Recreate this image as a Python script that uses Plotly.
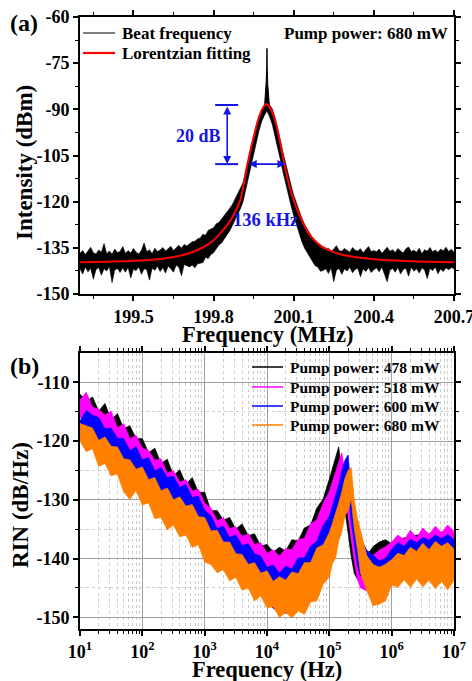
import plotly.graph_objects as go

# ---------------- Panel (a): beat note ----------------
A_FREQ = [round(199.30 + 0.01 * i, 2) for i in range(141)]   # MHz sampling grid
A_UPPER = [
    -136.8, -135.9, -137.2, -136.1, -134.8, -136.6, -137.0, -135.7, -136.4, -133.6,
    -136.9, -136.0, -137.1, -135.4, -136.5, -136.2, -134.6, -136.8, -135.9, -136.7,
    -135.2, -136.4, -137.0, -135.8, -133.4, -136.3, -135.6, -136.9, -135.1, -136.2,
    -135.7, -134.9, -136.0, -135.3, -134.5, -135.9, -135.0, -134.2, -135.1, -133.9, -134.4,
    -133.8, -133.0, -132.9, -132.1, -131.8, -130.6, -130.9, -129.3, -128.9, -128.5,
    -127.2, -126.8, -125.6, -124.5, -123.6, -122.2, -121.0, -119.3, -117.8, -116.0,
    -113.9, -110.5, -106.5, -103.0, -99.5, -96.0, -93.0, -90.5, -88.8,
    -87.5,
    -88.6, -89.9, -92.6, -96.0, -100.2, -104.0, -107.8, -111.5, -114.6, -117.9,
    -120.5, -123.0, -125.2, -127.3, -128.8, -130.5, -131.7, -132.6, -133.5, -134.1,
    -134.8, -135.6, -135.1, -136.2, -135.4, -134.3, -135.9, -136.1, -135.2, -135.7,
    -136.4, -134.9, -135.8, -136.0, -135.3, -136.6, -135.5, -134.6, -136.2, -135.9,
    -136.3, -135.4, -136.8, -135.7, -134.8, -136.1, -135.6, -136.5, -135.2, -136.0,
    -136.7, -135.3, -134.7, -136.2, -135.8, -136.4, -135.1, -136.9, -135.6, -136.1,
    -134.9, -136.3, -135.7, -136.5, -135.4, -136.0, -134.8, -136.2, -135.5, -136.4,
]
A_LOWER = [
    -141.9, -143.5, -141.2, -142.8, -141.6, -145.2, -142.0, -141.4, -143.9, -141.8,
    -142.5, -141.1, -146.3, -142.2, -141.7, -143.0, -141.5, -142.9, -141.3, -144.8,
    -141.9, -142.4, -141.2, -143.6, -141.8, -142.1, -145.5, -141.6, -142.3, -141.0,
    -142.7, -141.4, -143.2, -140.9, -141.8, -142.9, -140.6, -141.3, -144.1, -140.4, -140.9,
    -141.2, -140.6, -141.5, -140.2, -140.0, -139.8, -138.1, -138.5, -137.2, -136.6,
    -135.5, -134.1, -133.4, -132.0, -130.8, -129.6, -127.8, -126.1, -124.2, -122.4,
    -120.1, -116.0, -112.5, -108.5, -104.5, -100.5, -97.0, -94.0, -92.0,
    -90.5,
    -92.5, -95.0, -98.5, -102.4, -106.3, -110.4, -114.2, -117.9, -121.3, -124.6,
    -127.8, -130.3, -132.9, -135.0, -136.8, -138.1, -139.4, -140.8, -141.2, -142.6,
    -142.4, -141.8, -143.3, -141.5, -146.0, -142.2, -141.7, -143.6, -141.9, -142.5,
    -141.3, -143.1, -142.0, -141.6, -144.4, -141.8, -142.7, -141.4, -143.0, -142.1,
    -141.5, -142.8, -141.2, -143.9, -146.0, -142.3, -141.7, -142.9, -141.4, -143.5,
    -142.0, -141.6, -144.2, -141.3, -142.6, -141.8, -143.2, -141.5, -142.2, -145.0,
    -141.7, -142.4, -141.2, -143.4, -141.9, -142.7, -141.5, -142.1, -141.4, -141.8,
]
A_SPIKE_F = [199.990, 199.994, 199.997, 199.999, 200.000, 200.001, 200.003, 200.006, 200.010]
A_SPIKE_DB = [-90.0, -86.0, -81.0, -76.0, -70.2, -77.0, -82.0, -87.0, -90.0]
A_FIT_F = [199.30, 199.40, 199.50, 199.60, 199.65, 199.70, 199.75, 199.78, 199.80, 199.83,
           199.86, 199.88, 199.90, 199.925, 199.95, 199.97, 199.985, 199.996, 200.01, 200.03,
           200.05, 200.065, 200.08, 200.10, 200.12, 200.14, 200.16, 200.20, 200.25, 200.30,
           200.40, 200.50, 200.60, 200.70]
A_FIT_DB = [-139.7, -139.5, -139.2, -138.6, -138.0, -137.0, -135.3, -133.8, -132.5, -129.8,
            -126.5, -123.5, -119.5, -108.5, -99.0, -92.5, -89.5, -88.3, -89.3, -93.5,
            -101.0, -107.8, -113.5, -119.5, -124.0, -127.8, -130.8, -134.3, -136.4, -137.6,
            -138.7, -139.2, -139.5, -139.7]
A_NAMES = ["Beat frequency", "Lorentzian fitting"]
A_COLORS = ["#000000", "#ff0000"]
A_XTICKS = [199.5, 199.8, 200.1, 200.4, 200.7]
A_YTICKS = [-150, -135, -120, -105, -90, -75, -60]

# marker annotations (20 dB span and 136 kHz width)
DB_TOP, DB_BOT = -88.6, -107.8
DB_CAP_F = (199.806, 199.892)
DB_ARROW_F = 199.851
KHZ_F = (199.926, 200.069)

# ---------------- Panel (b): RIN ----------------
B_LOGF = [1.0, 1.1, 1.2, 1.3, 1.4, 1.5, 1.6, 1.7, 1.8, 1.9,
          2.0, 2.1, 2.2, 2.3, 2.4, 2.5, 2.6, 2.7, 2.8, 2.9,
          3.0, 3.1, 3.2, 3.3, 3.4, 3.5, 3.6, 3.7, 3.8, 3.9,
          4.0, 4.1, 4.2, 4.3, 4.4, 4.5, 4.6, 4.7, 4.8, 4.9,
          5.0, 5.05, 5.1, 5.15, 5.2, 5.25, 5.3, 5.35, 5.4, 5.45,
          5.5, 5.6, 5.7, 5.8, 5.9, 6.0, 6.1, 6.2, 6.3, 6.4,
          6.5, 6.6, 6.7, 6.8, 6.9, 7.0]
K_UP = [-112.0, -113.2, -112.5, -114.9, -113.6, -116.4, -115.3, -117.9, -117.4, -119.6,
        -119.6, -122.0, -121.2, -123.8, -123.1, -125.9, -124.9, -127.4, -126.2, -128.8,
        -128.7, -131.9, -131.8, -133.5, -133.0, -135.0, -134.1, -136.1, -135.8, -137.9,
        -137.6, -138.9, -138.1, -138.7, -136.8, -137.0, -134.8, -134.3, -131.4, -129.9,
        -126.5, -124.6, -122.6, -121.0, -125.5, -129.5, -133.0, -137.0, -140.0, -141.5,
        -141.0, -139.6, -138.0, -137.2, -136.8, -137.5, -136.8, -136.5, -136.3, -136.0,
        -135.8, -135.8, -135.6, -135.5, -135.5, -135.6]
K_LO = [-115.5, -116.0, -117.0, -118.2, -119.0, -120.0, -121.0, -121.8, -123.0, -123.8,
        -124.6, -125.6, -126.5, -127.4, -128.2, -129.0, -129.8, -130.6, -131.4, -132.4,
        -133.6, -135.4, -136.2, -137.0, -137.8, -138.6, -139.4, -140.2, -141.0, -142.0,
        -143.0, -143.6, -144.0, -144.0, -143.5, -142.8, -141.8, -140.5, -138.8, -136.8,
        -134.2, -132.5, -130.5, -128.8, -128.0, -131.5, -135.5, -139.5, -142.5, -143.5,
        -143.2, -142.5, -142.0, -141.5, -141.0, -141.5, -141.0, -140.8, -141.0, -140.6,
        -140.8, -140.5, -140.7, -140.4, -140.6, -140.5]
M_UP = [-113.0, -111.7, -114.2, -114.6, -115.6, -114.9, -117.8, -117.0, -119.6, -119.0,
        -121.2, -121.6, -123.3, -123.0, -125.5, -125.0, -127.0, -126.6, -128.5, -128.2,
        -130.6, -131.4, -133.6, -133.0, -134.9, -134.6, -136.2, -135.8, -137.6, -137.3,
        -139.1, -138.5, -139.6, -138.3, -138.5, -136.7, -136.6, -134.1, -133.4, -130.6,
        -128.6, -127.0, -125.2, -123.6, -122.0, -125.5, -129.5, -133.5, -137.0, -140.0,
        -141.5, -140.0, -139.5, -138.6, -138.0, -137.2, -136.0, -136.8, -135.2, -136.4,
        -134.8, -135.9, -134.5, -135.6, -134.3, -135.4]
M_LO = [-116.0, -117.0, -117.5, -119.0, -120.2, -121.0, -121.8, -122.5, -124.0, -124.8,
        -125.5, -126.5, -127.5, -128.2, -129.0, -130.0, -130.8, -131.5, -132.3, -133.2,
        -134.6, -136.4, -137.0, -138.0, -138.6, -139.4, -140.4, -141.2, -142.0, -143.0,
        -144.0, -144.6, -145.0, -145.0, -144.6, -144.0, -143.2, -142.0, -140.4, -138.5,
        -136.0, -134.5, -132.5, -130.5, -128.5, -128.0, -131.8, -136.5, -140.5, -143.5,
        -145.0, -145.5, -145.0, -144.5, -144.0, -143.0, -142.5, -142.0, -142.2, -141.8,
        -142.0, -141.6, -141.9, -141.5, -141.8, -141.6]
B_UP = [-116.6, -114.8, -115.6, -116.0, -117.9, -117.8, -119.5, -119.6, -121.6, -121.0,
        -123.2, -122.8, -125.1, -124.5, -126.2, -126.0, -127.9, -127.4, -129.6, -129.4,
        -131.8, -132.7, -134.9, -134.5, -136.4, -136.0, -137.8, -137.5, -139.2, -139.6,
        -141.5, -141.1, -142.5, -141.3, -141.8, -139.9, -139.9, -137.9, -137.1, -134.4,
        -132.8, -131.0, -129.3, -127.5, -125.2, -123.3, -122.4, -128.5, -132.0, -134.8,
        -136.5, -138.6, -139.4, -140.4, -140.0, -138.4, -137.3, -137.9, -136.7, -137.3,
        -136.4, -136.9, -136.0, -136.6, -135.9, -136.8]
B_LO = [-118.5, -118.9, -119.5, -121.0, -122.3, -122.8, -124.1, -123.5, -126.0, -127.2,
        -127.5, -128.6, -131.5, -130.0, -131.2, -132.0, -132.8, -133.4, -134.5, -135.4,
        -137.0, -139.3, -139.0, -140.5, -141.0, -142.2, -143.3, -144.6, -145.5, -146.2,
        -147.0, -148.5, -148.9, -149.3, -149.0, -148.8, -147.9, -146.8, -145.0, -143.4,
        -141.0, -139.5, -137.6, -135.4, -132.5, -129.5, -127.8, -133.5, -137.5, -141.0,
        -143.0, -142.0, -143.0, -143.5, -143.0, -142.0, -141.5, -141.2, -141.4, -141.0,
        -141.2, -140.8, -141.0, -140.7, -141.0, -140.9]
O_UP = [-117.0, -117.4, -117.8, -119.9, -119.3, -120.9, -121.0, -123.0, -123.2, -124.8,
        -124.4, -126.6, -126.2, -128.5, -128.0, -130.0, -129.5, -131.1, -130.8, -132.9,
        -133.0, -135.3, -135.2, -137.2, -137.2, -139.2, -139.3, -141.0, -140.7, -142.5,
        -142.1, -143.9, -143.1, -143.7, -142.3, -142.6, -140.7, -140.7, -138.2, -137.7,
        -135.6, -134.0, -132.4, -130.6, -128.7, -126.4, -125.0, -124.5, -130.0, -133.2,
        -135.2, -139.5, -141.0, -141.5, -141.0, -140.2, -139.1, -139.5, -138.1, -138.8,
        -137.4, -138.5, -137.1, -137.9, -137.3, -138.4]
O_LO = [-120.0, -121.8, -121.3, -124.3, -123.8, -125.9, -125.6, -128.6, -129.9, -128.4,
        -130.9, -130.5, -133.2, -133.0, -135.1, -134.3, -136.3, -136.0, -138.1, -137.6,
        -140.6, -141.0, -142.4, -141.9, -143.8, -143.2, -145.4, -145.0, -147.2, -146.4,
        -148.4, -148.2, -150.0, -149.2, -150.1, -148.9, -149.5, -147.4, -147.2, -144.4,
        -143.1, -140.8, -139.9, -137.0, -135.4, -132.7, -131.8, -129.8, -134.8, -138.3,
        -142.4, -145.4, -148.0, -147.8, -147.2, -144.5, -144.9, -143.6, -144.9, -143.5,
        -144.8, -143.7, -145.1, -143.9, -145.3, -143.7]
B_NAMES = ["Pump power: 478 mW", "Pump power: 518 mW", "Pump power: 600 mW", "Pump power: 680 mW"]
B_COLORS = ["#000000", "#ff00ff", "#0000ff", "#ff8000"]
B_BANDS = [(K_UP, K_LO), (M_UP, M_LO), (B_UP, B_LO), (O_UP, O_LO)]
B_XTICK_EXP = [1, 2, 3, 4, 5, 6, 7]
B_YTICKS = [-150, -140, -130, -120, -110]

# ---------------- layout geometry ----------------
W, H = 472, 681
ML, MR, MT, MB = 80, 18, 17, 52
PW, PH = W - ML - MR, H - MT - MB


def fx(px):
    return (px - ML) / PW


def fy(py):
    return (H - MB - py) / PH


FONT = "Liberation Serif"
BLUE = "#1414e6"

fig = go.Figure()

# panel (a) traces
fig.add_trace(go.Scatter(x=A_FREQ + A_FREQ[::-1], y=A_UPPER + A_LOWER[::-1], fill="toself",
                         fillcolor="black", line=dict(color="black", width=0.6), mode="lines",
                         name=A_NAMES[0], showlegend=False, hoverinfo="skip", xaxis="x", yaxis="y"))
fig.add_trace(go.Scatter(x=A_SPIKE_F, y=A_SPIKE_DB, fill="toself", fillcolor="black",
                         line=dict(color="black", width=1), mode="lines",
                         showlegend=False, hoverinfo="skip", xaxis="x", yaxis="y"))
fig.add_trace(go.Scatter(x=A_FIT_F, y=A_FIT_DB, mode="lines", name=A_NAMES[1],
                         line=dict(color=A_COLORS[1], width=2, shape="spline"),
                         showlegend=False, xaxis="x", yaxis="y"))

# panel (b) traces
B_FREQ = [10 ** e for e in B_LOGF]
for (up, lo), col, name in zip(B_BANDS, B_COLORS, B_NAMES):
    fig.add_trace(go.Scatter(x=B_FREQ + B_FREQ[::-1], y=up + lo[::-1], fill="toself", fillcolor=col,
                             line=dict(color=col, width=0.8), mode="lines", showlegend=False,
                             name=name, hoverinfo="skip", xaxis="x2", yaxis="y2"))

axis_common = dict(showline=True, linecolor="black", linewidth=2, mirror="ticks", ticks="outside",
                   ticklen=5, tickwidth=1.5, tickcolor="black", zeroline=False, automargin=False,
                   ticklabeloverflow="allow",
                   tickfont=dict(family=FONT, size=18, color="black", weight="bold"))

fig.update_layout(
    width=W, height=H, margin=dict(l=ML, r=MR, t=MT, b=MB, autoexpand=False),
    paper_bgcolor="white", plot_bgcolor="white", showlegend=False,
    font=dict(family=FONT, size=18, color="black", weight="bold"),
    xaxis=dict(axis_common, domain=[0, 1], range=[199.3, 200.7001], tickmode="array",
               tickvals=A_XTICKS, ticktext=[f"{v:.1f}" for v in A_XTICKS], showgrid=False,
               minor=dict(tickvals=[199.35, 199.65, 199.95, 200.25, 200.55], ticks="outside",
                          ticklen=3, tickwidth=1.2, tickcolor="black"), anchor="y"),
    yaxis=dict(axis_common, domain=[fy(294), 1], range=[-150, -60], tickmode="array",
               tickvals=A_YTICKS, ticktext=[str(v) for v in A_YTICKS], showgrid=False,
               minor=dict(tickvals=[v + 7.5 for v in A_YTICKS[:-1]], ticks="outside",
                          ticklen=3, tickwidth=1.2, tickcolor="black"), anchor="x"),
    xaxis2=dict(axis_common, domain=[0, 1], type="log", range=[1, 7.0001], tickmode="array",
                tickvals=[10 ** e for e in B_XTICK_EXP],
                ticktext=[f"10<sup>{e}</sup>" for e in B_XTICK_EXP],
                showgrid=True, gridcolor="#a0a0a0", gridwidth=1,
                minor=dict(tickvals=[k * 10 ** e for e in range(1, 7) for k in range(2, 10)],
                           ticks="outside", ticklen=3, tickwidth=1, tickcolor="black",
                           showgrid=True, gridcolor="#cccccc", griddash="dot", gridwidth=1),
                anchor="y2"),
    yaxis2=dict(axis_common, domain=[0, fy(353)], range=[-152, -105], tickmode="array",
                tickvals=B_YTICKS, ticktext=[str(v) for v in B_YTICKS],
                showgrid=True, gridcolor="#a0a0a0", gridwidth=1,
                minor=dict(tickvals=[-145, -135, -125, -115], ticks="outside", ticklen=3,
                           tickwidth=1.2, tickcolor="black", showgrid=True, gridcolor="#cccccc",
                           griddash="dot", gridwidth=1),
                anchor="x2"),
)

# 20 dB / 136 kHz markers (panel a)
for yv in (DB_TOP, DB_BOT):
    fig.add_shape(type="line", xref="x", yref="y", x0=DB_CAP_F[0], x1=DB_CAP_F[1], y0=yv, y1=yv,
                  line=dict(color=BLUE, width=2))
fig.add_annotation(xref="x", yref="y", axref="x", ayref="y", x=DB_ARROW_F, y=DB_BOT, ax=DB_ARROW_F, ay=DB_TOP,
                   text="", showarrow=True, arrowside="end+start", arrowhead=2, arrowsize=1,
                   arrowwidth=1.6, arrowcolor=BLUE)
fig.add_annotation(xref="x", yref="y", axref="x", ayref="y", x=KHZ_F[1], y=DB_BOT, ax=KHZ_F[0], ay=DB_BOT,
                   text="", showarrow=True, arrowside="end+start", arrowhead=2, arrowsize=1,
                   arrowwidth=1.6, arrowcolor=BLUE)

# legends (drawn as line samples + labels)
legend_rows = [
    (A_NAMES[0], A_COLORS[0], 1.0, 83, 115, 120, 33, 17),
    (A_NAMES[1], A_COLORS[1], 2.2, 83, 115, 120, 53, 17),
]
for i, (name, col) in enumerate(zip(B_NAMES, B_COLORS)):
    legend_rows.append((name, col, 1.5, 252, 283, 288, [367, 387, 406, 425][i], 15.5))
for name, col, lw, x0, x1, xt, yrow, fs in legend_rows:
    fig.add_shape(type="line", xref="paper", yref="paper", x0=fx(x0), x1=fx(x1), y0=fy(yrow), y1=fy(yrow),
                  line=dict(color=col, width=lw))
    fig.add_annotation(xref="paper", yref="paper", x=fx(xt), y=fy(yrow), text=name, showarrow=False,
                       xanchor="left", yanchor="middle",
                       font=dict(family=FONT, size=fs, color="black", weight="bold"))

texts = [
    dict(text="20 dB", x=fx(198.5), y=fy(136), size=18, color=BLUE),
    dict(text="136 kHz", x=fx(265), y=fy(220), size=18.5, color=BLUE),
    dict(text="Pump power: 680 mW", x=fx(450), y=fy(33), size=17, color="black", xanchor="right"),
    dict(text="(a)", x=fx(24), y=fy(23), size=24, color="black"),
    dict(text="(b)", x=fx(24), y=fy(366), size=24, color="black"),
    dict(text="Frequency (MHz)", x=fx(267), y=fy(335), size=22.5, color="black"),
    dict(text="Frequency (Hz)", x=fx(267), y=fy(669), size=22.5, color="black"),
    dict(text="Intensity (dBm)", x=fx(24), y=fy(163), size=23, color="black", angle=-90),
    dict(text="RIN (dB/Hz)", x=fx(20), y=fy(505), size=23, color="black", angle=-90),
]
for t in texts:
    fig.add_annotation(xref="paper", yref="paper", x=t["x"], y=t["y"], text=t["text"], showarrow=False,
                       xanchor=t.get("xanchor", "center"), yanchor="middle", textangle=t.get("angle", 0),
                       font=dict(family=FONT, size=t["size"], color=t["color"], weight="bold"))

fig.write_html("out.html", post_script="document.body.style.margin='0';",
               config={"displayModeBar": False})
